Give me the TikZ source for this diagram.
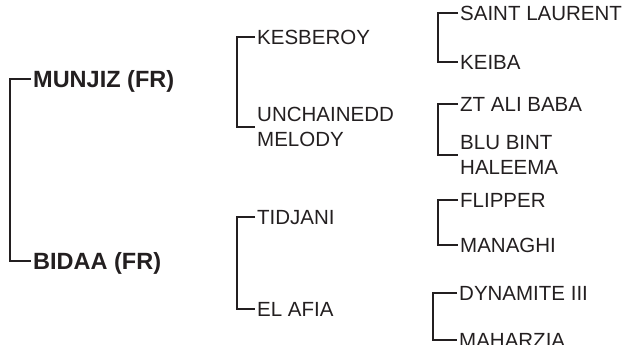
\documentclass[tikz,border=0pt]{standalone}
\usepackage{fontspec}
\setmainfont{Liberation Sans}
\definecolor{ink}{HTML}{231F20}

\begin{document}
\begin{tikzpicture}[x=1pt, y=-1pt,
    line/.style={draw=ink, line width=2.6pt},
    sire/.style={anchor=west, inner sep=2pt, text=ink, font=\bfseries\fontsize{23.5}{28}\selectfont, text height=16.8pt, text depth=0pt},
    horse/.style={anchor=west, inner sep=2pt, text=ink, font=\fontsize{20.5}{25}\selectfont, text height=14.7pt, text depth=0pt},
    horsetwo/.style={anchor=west, inner sep=2pt, text=ink, font=\fontsize{20.5}{25}\selectfont, align=left}]

  \useasboundingbox (0,0) rectangle (630,345);

  % parents
  \node[sire] (munjiz) at (31,79) {MUNJIZ (FR)};
  \node[sire] (bidaa) at (31,261) {BIDAA (FR)};
  \draw[line] (munjiz.west) -- ++(-21,0) |- (bidaa.west);

  % grandparents
  \node[horse] (kesberoy) at (255,37) {KESBEROY};
  \node[horsetwo] (unchained) at (255,127) {UNCHAINEDD\\MELODY};
  \node[horse] (tidjani) at (255,217) {TIDJANI};
  \node[horse] (elafia) at (255,309) {EL AFIA};
  \draw[line] (kesberoy.west) -- ++(-18,0) |- (unchained.west);
  \draw[line] (tidjani.west) -- ++(-18,0) |- (elafia.west);

  % great grandparents
  \node[horse] (saintlaurent) at (458,13) {SAINT LAURENT};
  \node[horse] (keiba) at (458,62) {KEIBA};
  \node[horse] (alibaba) at (458,104) {ZT ALI BABA};
  \node[horsetwo] (bluebint) at (458,155) {BLU BINT\\HALEEMA};
  \node[horse] (flipper) at (458,200) {FLIPPER};
  \node[horse] (managhi) at (458,245) {MANAGHI};
  \node[horse] (dynamite) at (457,293) {DYNAMITE III};
  \node[horse] (maharzia) at (457,340) {MAHARZIA};
  \draw[line] (saintlaurent.west) -- ++(-20,0) |- (keiba.west);
  \draw[line] (alibaba.west) -- ++(-20,0) |- (bluebint.west);
  \draw[line] (flipper.west) -- ++(-20,0) |- (managhi.west);
  \draw[line] (dynamite.west) -- ++(-24,0) |- (maharzia.west);

\end{tikzpicture}
\end{document}
